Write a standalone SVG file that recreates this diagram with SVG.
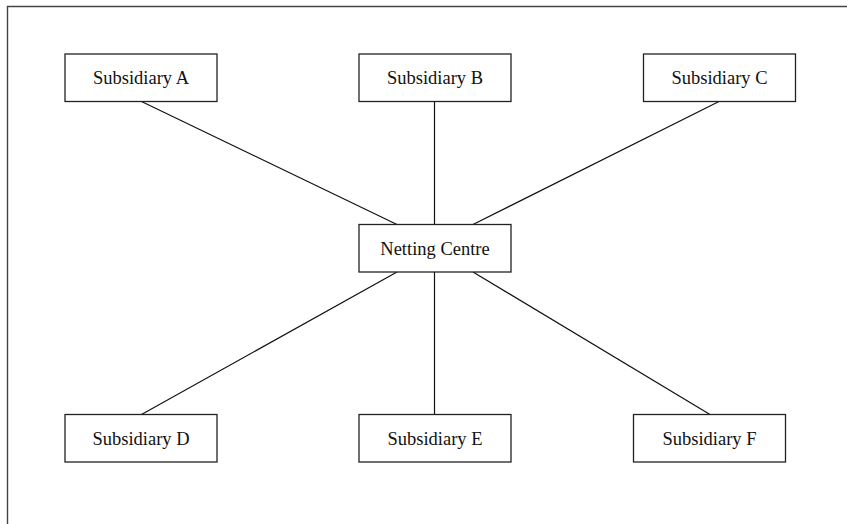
<svg xmlns="http://www.w3.org/2000/svg" width="847" height="524" viewBox="0 0 847 524">
  <style>
    .box { fill: #ffffff; stroke: #222222; stroke-width: 1.3; }
    .label { font-family: "Liberation Serif", "Times New Roman", serif; font-size: 18.5px; fill: #111111; text-anchor: middle; }
    .link { stroke: #111111; stroke-width: 1.2; fill: none; }
    .frame { stroke: #444444; stroke-width: 1.4; fill: none; }
  </style>
  <rect width="847" height="524" fill="#ffffff"/>
  <!-- page frame, open on the right and bottom -->
  <path class="frame" d="M7.5,524 V6.5 H847"/>

  <g id="connectors">
    <line class="link" x1="141.5" y1="101.5" x2="397" y2="224.5"/>
    <line class="link" x1="434.5" y1="101.5" x2="434.5" y2="224.5"/>
    <line class="link" x1="719" y1="101.5" x2="473" y2="224.5"/>
    <line class="link" x1="397" y1="272" x2="141.5" y2="414.5"/>
    <line class="link" x1="434.5" y1="272" x2="434.5" y2="414.5"/>
    <line class="link" x1="473" y1="272" x2="710" y2="414.5"/>
  </g>

  <g id="subsidiary-a">
    <rect class="box" x="65" y="54" width="152" height="47.5"/>
    <text class="label" x="141" y="84">Subsidiary A</text>
  </g>
  <g id="subsidiary-b">
    <rect class="box" x="359" y="54" width="152" height="47.5"/>
    <text class="label" x="435" y="84">Subsidiary B</text>
  </g>
  <g id="subsidiary-c">
    <rect class="box" x="643.5" y="54" width="152" height="47.5"/>
    <text class="label" x="719.5" y="84">Subsidiary C</text>
  </g>
  <g id="netting-centre">
    <rect class="box" x="359" y="224.5" width="152" height="47.5"/>
    <text class="label" x="435" y="255">Netting Centre</text>
  </g>
  <g id="subsidiary-d">
    <rect class="box" x="65" y="414.5" width="152" height="47.5"/>
    <text class="label" x="141" y="445">Subsidiary D</text>
  </g>
  <g id="subsidiary-e">
    <rect class="box" x="359" y="414.5" width="152" height="47.5"/>
    <text class="label" x="435" y="445">Subsidiary E</text>
  </g>
  <g id="subsidiary-f">
    <rect class="box" x="633.5" y="414.5" width="152" height="47.5"/>
    <text class="label" x="709.5" y="445">Subsidiary F</text>
  </g>
</svg>
